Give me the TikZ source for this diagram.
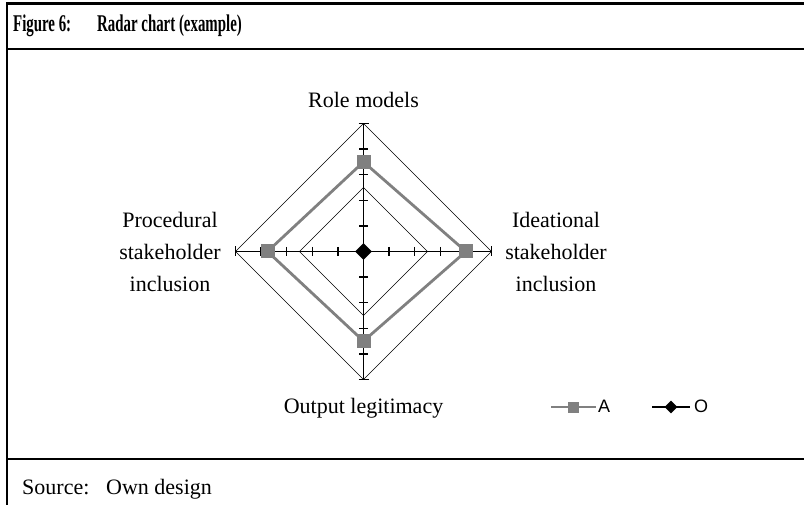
\documentclass[tikz,border=0pt]{standalone}
\usepackage{fontspec}
\setmainfont{Liberation Serif}
\newfontfamily\legendfont{Liberation Sans}
\usepackage{tikz}
\usetikzlibrary{positioning}
\definecolor{seriesgrey}{RGB}{128,128,128}
\newcommand{\narrowtitle}[1]{\scalebox{0.62}[1]{\fontsize{24}{26}\selectfont\bfseries #1}}

\begin{document}
\begin{tikzpicture}[
            x = 1pt, y = -1pt, % pixel like units, y downwards
            frame/.style = {line width = 2.4pt},
            grid/.style = {line width = 0.7pt},
            axis/.style = {line width = 1.5pt},
            series/.style = {draw = seriesgrey, line width = 2.8pt, line join = miter},
            label/.style = {font = \fontsize{22}{32}\selectfont, align = center, inner sep = 0pt},
            marka/.style = {fill = seriesgrey, minimum size = 14pt, inner sep = 0pt},
            marko/.style = {fill = black, minimum size = 12pt, inner sep = 0pt, rotate = 45}
        ]

        \useasboundingbox (0,0) rectangle (804,505);

        % frame
        \draw[frame] (7,505) -- (7,3.5) -- (804,3.5);
        \draw[frame] (7,49) -- (804,49);
        \draw[frame] (7,459) -- (804,459);

        \node[anchor = base west, inner sep = 0pt] (fig) at (13,32) {\narrowtitle{Figure 6:}};
        \node[anchor = base west, inner sep = 0pt] (ttl) at (97,32) {\narrowtitle{Radar chart (example)}};
        \node[anchor = base west, font = \fontsize{22}{24}\selectfont, inner sep = 0pt] (src) at (22,494) {Source:};
        \node[anchor = base west, font = \fontsize{22}{24}\selectfont, inner sep = 0pt] (own) at (106,494) {Own design};

        \begin{scope}[shift = {(363.5,251.5)}]
            \coordinate (c) at (0,0);
            \coordinate (top) at (0,-128);
            \coordinate (rgt) at (128,0);
            \coordinate (bot) at (0,128);
            \coordinate (lft) at (-128,0);
            \coordinate (gt) at (0,-64);
            \coordinate (gr) at (64,0);
            \coordinate (gb) at (0,64);
            \coordinate (gl) at (-64,0);

            % grid
            \draw[grid] (top) -- (rgt) -- (bot) -- (lft) -- cycle;
            \draw[grid] (gt) -- (gr) -- (gb) -- (gl) -- cycle;

            % axes
            \draw[axis] (top) -- (bot);
            \draw[axis] (lft) -- (rgt);
            \foreach \k in {1,...,4} {
                \draw[axis] (-4.5,-\k*25.6) -- (4.5,-\k*25.6);
                \draw[axis] (-4.5,\k*25.6) -- (4.5,\k*25.6);
                \draw[axis] (\k*25.6,-4.5) -- (\k*25.6,4.5);
                \draw[axis] (-\k*25.6,-4.5) -- (-\k*25.6,4.5);
            }
            \draw[axis] (-5,-128) -- (5,-128);
            \draw[axis] (-5,128) -- (5,128);
            \draw[axis] (128,-5) -- (128,5);
            \draw[axis] (-128,-5) -- (-128,5);

            % series A
            \node[marka] (at) at (0,-89.6) {};
            \node[marka] (ar) at (102.4,0) {};
            \node[marka] (ab) at (0,89.6) {};
            \node[marka] (al) at (-96,0) {};
            \draw[series] (at.center) -- (ar.center) -- (ab.center) -- (al.center) -- cycle;
            \node[marka] at (at) {};
            \node[marka] at (ar) {};
            \node[marka] at (ab) {};
            \node[marka] at (al) {};

            % series O
            \node[marko] (o) at (c) {};
        \end{scope}

        % axis labels
        \node[label] (roles) at (363.5,100) {Role models};
        \node[label] (proc) at (170,252) {Procedural\\stakeholder\\inclusion};
        \node[label] (idea) at (556,252) {Ideational\\stakeholder\\inclusion};
        \node[label] (outp) at (363.5,408) {Output legitimacy};

        % legend
        \coordinate (la1) at (551,407);
        \coordinate (la2) at (596,407);
        \draw[series] (la1) -- (la2);
        \node[marka, minimum size = 11pt] (lam) at (573.5,407) {};
        \node[anchor = west, font = \legendfont\fontsize{18}{20}\selectfont, inner sep = 0pt] (lA) at (598,406) {A};
        \coordinate (lo1) at (652,407);
        \coordinate (lo2) at (690,407);
        \draw[line width = 1.4pt] (lo1) -- (lo2);
        \node[marko, minimum size = 9pt] (lom) at (671,407) {};
        \node[anchor = west, font = \legendfont\fontsize{18}{20}\selectfont, inner sep = 0pt] (lO) at (694,406) {O};

  \end{tikzpicture}
\end{document}
